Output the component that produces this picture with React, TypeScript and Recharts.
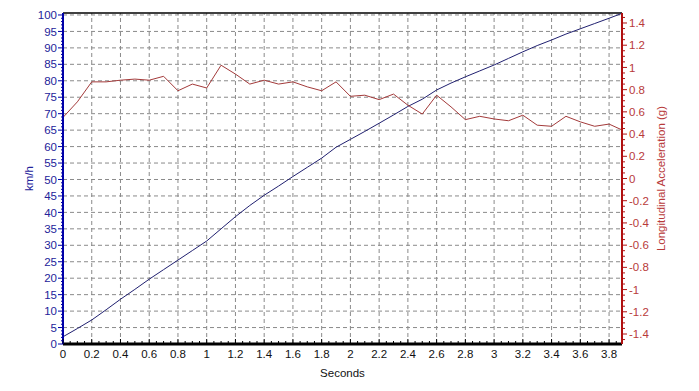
import React from "react";
import { ComposedChart, Line, XAxis, YAxis, ReferenceLine, Label } from "recharts";

// time stamps (s), speed (km/h) and longitudinal acceleration (g)
const times = [0, 0.1, 0.2, 0.3, 0.4, 0.5, 0.6, 0.7, 0.8, 0.9, 1.0, 1.1, 1.2, 1.3, 1.4, 1.5, 1.6, 1.7, 1.8, 1.9, 2.0, 2.1, 2.2, 2.3, 2.4, 2.5, 2.6, 2.7, 2.8, 2.9, 3.0, 3.1, 3.2, 3.3, 3.4, 3.5, 3.6, 3.7, 3.8, 3.89];
const speedKmh = [2.2, 4.7, 7.3, 10.4, 13.6, 16.6, 19.7, 22.6, 25.5, 28.4, 31.3, 35, 38.7, 42.1, 45.2, 48, 50.9, 53.7, 56.5, 59.8, 62.2, 64.6, 67.1, 69.6, 72.2, 74.4, 77.2, 79.3, 81.2, 83, 84.8, 86.8, 88.8, 90.7, 92.4, 94.2, 95.8, 97.4, 99, 100.5];
const accelG = [0.55, 0.69, 0.87, 0.87, 0.885, 0.895, 0.885, 0.92, 0.79, 0.85, 0.815, 1.02, 0.94, 0.85, 0.885, 0.85, 0.87, 0.825, 0.79, 0.87, 0.74, 0.75, 0.71, 0.76, 0.66, 0.58, 0.75, 0.645, 0.53, 0.56, 0.536, 0.52, 0.57, 0.48, 0.47, 0.56, 0.51, 0.47, 0.49, 0.437];

const secondTicks = [0, 0.2, 0.4, 0.6, 0.8, 1, 1.2, 1.4, 1.6, 1.8, 2, 2.2, 2.4, 2.6, 2.8, 3, 3.2, 3.4, 3.6, 3.8];
const kmhTicks = [0, 5, 10, 15, 20, 25, 30, 35, 40, 45, 50, 55, 60, 65, 70, 75, 80, 85, 90, 95, 100];
const gTicks = [-1.4, -1.2, -1, -0.8, -0.6, -0.4, -0.2, 0, 0.2, 0.4, 0.6, 0.8, 1, 1.2, 1.4];

// minor tick marks
const secondMinor = Array.from({ length: 78 }, (_, i) => +(i * 0.05).toFixed(2));
const kmhMinor = Array.from({ length: 101 }, (_, i) => i);
const gMinor = Array.from({ length: 59 }, (_, i) => +(-1.45 + i * 0.05).toFixed(2));

const data = times.map((t, i) => ({ t, speed: speedKmh[i], accel: accelG[i] }));

const FONT = "'Liberation Sans', Arial, sans-serif";
const BLUE_AXIS = "#0000a8";
const BLUE_TEXT = "#23239a";
const RED_AXIS = "#b01010";
const RED_TEXT = "#b83a3a";
const GRID = "#8a8a8a";

const fmt = (v: number) => String(Number(v.toFixed(2)));
const isMajor = (v: number, list: number[]) => list.some((m) => Math.abs(m - v) < 1e-6);

const LeftTick = (props: any) => {
  const { x, y, payload } = props;
  const major = isMajor(payload.value, kmhTicks);
  return (
    <g>
      <line x1={x} x2={x - (major ? 5 : 2)} y1={y} y2={y} stroke={BLUE_AXIS} />
      {major && (
        <text x={x - 6} y={y} dy="0.36em" textAnchor="end" fill={BLUE_TEXT} fontSize={11.5} fontFamily={FONT}>
          {fmt(payload.value)}
        </text>
      )}
    </g>
  );
};

const RightTick = (props: any) => {
  const { x, y, payload } = props;
  const major = isMajor(payload.value, gTicks);
  return (
    <g>
      <line x1={x} x2={x + (major ? 5 : 3)} y1={y} y2={y} stroke={RED_AXIS} />
      {major && (
        <text x={x + 7} y={y} dy="0.36em" textAnchor="start" fill={RED_TEXT} fontSize={11.5} fontFamily={FONT}>
          {fmt(payload.value)}
        </text>
      )}
    </g>
  );
};

const BottomTick = (props: any) => {
  const { x, y, payload } = props;
  const major = isMajor(payload.value, secondTicks);
  return (
    <g>
      <line x1={x} x2={x} y1={y} y2={y - (major ? 5 : 3)} stroke="#000" />
      {major && (
        <text x={x} y={y + 14} textAnchor="middle" fill="#111" fontSize={11.5} fontFamily={FONT}>
          {fmt(payload.value)}
        </text>
      )}
    </g>
  );
};

export default function App() {
  return (
    <div style={{ position: "absolute", left: 0, top: 0, width: 699, height: 391, background: "#fff" }}>
      <ComposedChart width={699} height={391} data={data} margin={{ top: 13, right: 0, bottom: 0, left: 0 }}>
        <XAxis
          dataKey="t"
          type="number"
          domain={[0, 3.89]}
          ticks={secondMinor}
          interval={0}
          allowDataOverflow
          height={47}
          tickSize={0}
          tickMargin={0}
          tickLine={false}
          tick={<BottomTick />}
          axisLine={{ stroke: "#000", strokeWidth: 3 }}
        >
          <Label value="Seconds" position="insideBottom" offset={14} fill="#111" fontSize={11.5} fontFamily={FONT} />
        </XAxis>
        <YAxis
          yAxisId="kmh"
          orientation="left"
          type="number"
          domain={[0, 100.6]}
          ticks={kmhMinor}
          interval={0}
          allowDataOverflow
          width={63}
          tickSize={0}
          tickMargin={0}
          tickLine={false}
          tick={<LeftTick />}
          axisLine={{ stroke: BLUE_AXIS, strokeWidth: 2 }}
        >
          <Label value="km/h" angle={-90} position="center" dx={-3} fill={BLUE_TEXT} fontSize={11.5} fontFamily={FONT} />
        </YAxis>
        <YAxis
          yAxisId="g"
          orientation="right"
          type="number"
          domain={[-1.49, 1.49]}
          ticks={gMinor}
          interval={0}
          allowDataOverflow
          width={77}
          tickSize={0}
          tickMargin={0}
          tickLine={false}
          tick={<RightTick />}
          axisLine={{ stroke: RED_AXIS, strokeWidth: 2 }}
        >
          <Label value="Longitudinal Acceleration (g)" angle={-90} position="center" fill={RED_TEXT} fontSize={11.5} fontFamily={FONT} />
        </YAxis>

        {kmhTicks.filter((v) => v > 0).map((v) => (
          <ReferenceLine key={"h" + v} yAxisId="kmh" y={v} stroke={GRID} strokeDasharray="4 3" />
        ))}
        {secondTicks.filter((v) => v > 0).map((v) => (
          <ReferenceLine key={"v" + v} yAxisId="kmh" x={v} stroke={GRID} strokeDasharray="4 3" />
        ))}
        <ReferenceLine yAxisId="kmh" y={100.6} stroke="#000" strokeWidth={1.5} />

        <Line
          yAxisId="kmh"
          type="linear"
          dataKey="speed"
          stroke="#202070"
          strokeWidth={1}
          dot={false}
          isAnimationActive={false}
        />
        <Line
          yAxisId="g"
          type="linear"
          dataKey="accel"
          stroke="#a33a3a"
          strokeWidth={1}
          dot={false}
          isAnimationActive={false}
        />
      </ComposedChart>
    </div>
  );
}
